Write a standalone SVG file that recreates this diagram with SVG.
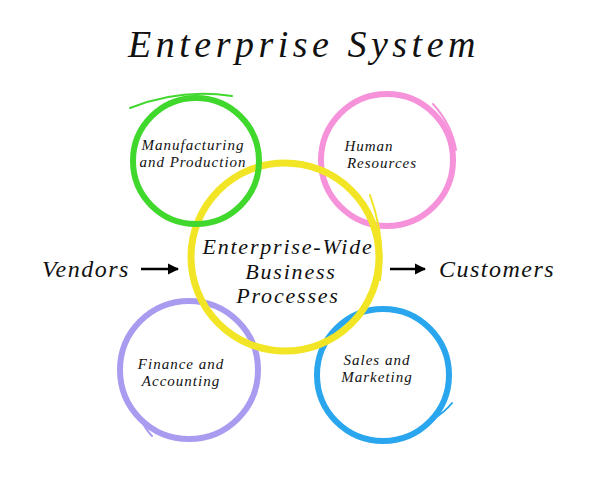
<svg xmlns="http://www.w3.org/2000/svg" width="600" height="485" viewBox="0 0 600 485">
<defs>
<style>
text{font-family:"Liberation Serif","DejaVu Serif",serif;font-style:italic;fill:#111;text-anchor:middle}
.ring{fill:none;stroke-linecap:round}
.lbl{font-size:15px;letter-spacing:1px}
.big{font-size:22px;letter-spacing:1.8px}
.side{font-size:24px;letter-spacing:1.5px}
.conn{stroke:#000;stroke-width:2.5;fill:none}
</style>
<marker id="ah" viewBox="0 0 10 10" refX="9" refY="5" markerWidth="4.5" markerHeight="4.5" orient="auto">
<path d="M0,0 L10,5 L0,10 z" fill="#000"/>
</marker>
</defs>
<rect width="600" height="485" fill="#fff"/>
<text x="304" y="57" style="font-size:38px;letter-spacing:4.5px">Enterprise System</text>

<g id="node-sales">
<circle class="ring" cx="383" cy="375" r="66" stroke="#2aa6ee" stroke-width="6"/>
<path class="ring" d="M432,420 Q445,412 452,403" stroke="#2aa6ee" stroke-width="2"/>
<text class="lbl" x="377" y="365">Sales and</text>
<text class="lbl" x="377" y="382">Marketing</text>
</g>
<g id="node-finance">
<circle class="ring" cx="189" cy="370" r="69" stroke="#a99cf0" stroke-width="6"/>
<path class="ring" d="M140,418 Q146,430 152,436" stroke="#a99cf0" stroke-width="2"/>
<text class="lbl" x="181" y="369">Finance and</text>
<text class="lbl" x="181" y="386">Accounting</text>
</g>
<g id="node-hr">
<circle class="ring" cx="387" cy="160" r="66" stroke="#f592da" stroke-width="6"/>
<path class="ring" d="M433,104 Q452,125 456,150" stroke="#f592da" stroke-width="2"/>
<text class="lbl" x="369" y="151">Human</text>
<text class="lbl" x="382" y="168">Resources</text>
</g>
<g id="node-core">
<circle class="ring" cx="285" cy="257" r="94" stroke="#f2e526" stroke-width="7"/>
<path class="ring" d="M370,195 Q386,240 380,280" stroke="#f2e526" stroke-width="2"/>
<text class="big" x="288" y="254">Enterprise-Wide</text>
<text class="big" x="291" y="278.5">Business</text>
<text class="big" x="288" y="303">Processes</text>
</g>
<g id="node-mfg">
<circle class="ring" cx="196" cy="161" r="63" stroke="#40d82c" stroke-width="6"/>
<path class="ring" d="M130,108 Q180,88 232,96" stroke="#40d82c" stroke-width="2"/>
<text class="lbl" x="193" y="150">Manufacturing</text>
<text class="lbl" x="193" y="167">and Production</text>
</g>
<g id="node-vendors">
<text class="side" x="86" y="277">Vendors</text>
</g>
<g id="node-customers">
<text class="side" x="497" y="277">Customers</text>
</g>
<g id="connectors">
<line class="conn" x1="141" y1="269" x2="178" y2="269" marker-end="url(#ah)"/>
<line class="conn" x1="390" y1="269" x2="425" y2="269" marker-end="url(#ah)"/>
</g>
</svg>
